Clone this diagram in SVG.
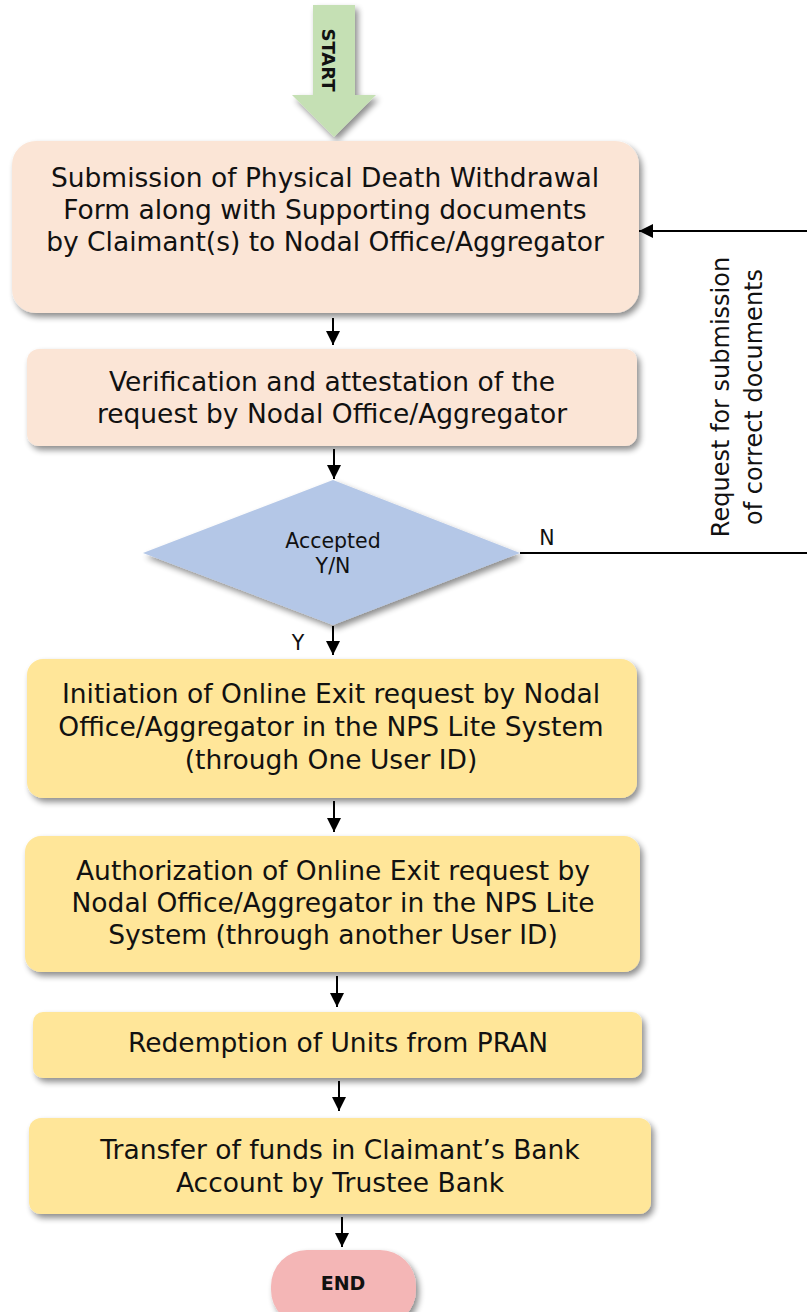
<svg xmlns="http://www.w3.org/2000/svg" width="807" height="1312" viewBox="0 0 807 1312">
  <defs>
    <filter id="shadow" x="-10%" y="-10%" width="125%" height="130%">
      <feGaussianBlur in="SourceAlpha" stdDeviation="3"/>
      <feOffset dx="3" dy="4" result="b"/>
      <feComponentTransfer><feFuncA type="linear" slope="0.45"/></feComponentTransfer>
      <feMerge><feMergeNode/><feMergeNode in="SourceGraphic"/></feMerge>
    </filter>
    <marker id="arrowBig" viewBox="0 0 10 10" refX="10" refY="5" markerWidth="14" markerHeight="14" markerUnits="userSpaceOnUse" orient="auto">
      <path d="M0,0 L10,5 L0,10 z" fill="#000"/>
    </marker>
  </defs>
  <style>
    .box-peach { fill: #fbe5d6; filter: url(#shadow); }
    .box-yellow { fill: #ffe699; filter: url(#shadow); }
    .lbl { font-family: "DejaVu Sans", Verdana, sans-serif; font-size: 26.5px; fill: #111; text-anchor: middle; }
    .small { font-family: "DejaVu Sans", Verdana, sans-serif; font-size: 20.5px; fill: #111; text-anchor: middle; }
    .side { font-family: "DejaVu Sans", Verdana, sans-serif; font-size: 24px; fill: #111; text-anchor: middle; }
    .bold { font-family: "DejaVu Sans", Verdana, sans-serif; font-weight: bold; fill: #111; text-anchor: middle; }
    .conn { stroke: #000; stroke-width: 2; fill: none; }
  </style>
  <rect width="807" height="1312" fill="#fff"/>

  <!-- start arrow -->
  <g id="start">
    <path d="M313,5 H355 V95 H376 L334,137 L292,95 H313 Z" fill="#c5e0b4" filter="url(#shadow)"/>
    <text class="bold" font-size="18" transform="translate(328,60) rotate(90)" dominant-baseline="central">START</text>
  </g>

  <g id="submission">
    <rect class="box-peach" x="12" y="141" width="627" height="172" rx="24"/>
    <text class="lbl" x="325" y="187">Submission of Physical Death Withdrawal</text>
    <text class="lbl" x="325" y="219">Form along with Supporting documents</text>
    <text class="lbl" x="325" y="251">by Claimant(s) to Nodal Office/Aggregator</text>
  </g>

  <g id="verification">
    <rect class="box-peach" x="27" y="349" width="610" height="97" rx="12"/>
    <text class="lbl" x="332" y="391">Verification and attestation of the</text>
    <text class="lbl" x="332" y="423">request by Nodal Office/Aggregator</text>
  </g>

  <g id="decision">
    <path d="M333,480 L520,553 L333,625 L143,553 Z" fill="#b4c7e7" filter="url(#shadow)"/>
    <text class="small" x="333" y="548">Accepted</text>
    <text class="small" x="333" y="573">Y/N</text>
  </g>

  <g id="initiation">
    <rect class="box-yellow" x="27" y="659" width="610" height="139" rx="16"/>
    <text class="lbl" x="331" y="703">Initiation of Online Exit request by Nodal</text>
    <text class="lbl" x="331" y="736">Office/Aggregator in the NPS Lite System</text>
    <text class="lbl" x="331" y="769">(through One User ID)</text>
  </g>

  <g id="authorization">
    <rect class="box-yellow" x="25" y="836" width="615" height="136" rx="16"/>
    <text class="lbl" x="333" y="880">Authorization of Online Exit request by</text>
    <text class="lbl" x="333" y="912">Nodal Office/Aggregator in the NPS Lite</text>
    <text class="lbl" x="333" y="944">System (through another User ID)</text>
  </g>

  <g id="redemption">
    <rect class="box-yellow" x="33" y="1012" width="609" height="66" rx="10"/>
    <text class="lbl" x="338" y="1052">Redemption of Units from PRAN</text>
  </g>

  <g id="transfer">
    <rect class="box-yellow" x="29" y="1118" width="622" height="96" rx="12"/>
    <text class="lbl" x="340" y="1159">Transfer of funds in Claimant’s Bank</text>
    <text class="lbl" x="340" y="1192">Account by Trustee Bank</text>
  </g>

  <g id="end">
    <rect x="271" y="1250" width="145" height="76" rx="36" fill="#f4b6b6" filter="url(#shadow)"/>
    <text class="bold" font-size="19" x="343" y="1290">END</text>
  </g>

  <g id="connectors">
    <line class="conn" x1="333" y1="318" x2="333" y2="345" marker-end="url(#arrowBig)"/>
    <line class="conn" x1="334" y1="449" x2="334" y2="479" marker-end="url(#arrowBig)"/>
    <line class="conn" x1="333" y1="626" x2="333" y2="655" marker-end="url(#arrowBig)"/>
    <line class="conn" x1="334" y1="801" x2="334" y2="832" marker-end="url(#arrowBig)"/>
    <line class="conn" x1="337" y1="976" x2="337" y2="1007" marker-end="url(#arrowBig)"/>
    <line class="conn" x1="339" y1="1081" x2="339" y2="1111" marker-end="url(#arrowBig)"/>
    <line class="conn" x1="342" y1="1217" x2="342" y2="1247" marker-end="url(#arrowBig)"/>
    <!-- rejection loop back to submission -->
    <polyline class="conn" points="520,553 808,553 808,231 639,231" marker-end="url(#arrowBig)"/>
    <text class="small" x="547" y="545">N</text>
    <text class="small" x="298" y="650">Y</text>
    <text class="side" transform="translate(729,397) rotate(-90)">Request for submission</text>
    <text class="side" transform="translate(762,397) rotate(-90)">of correct documents</text>
  </g>
</svg>
